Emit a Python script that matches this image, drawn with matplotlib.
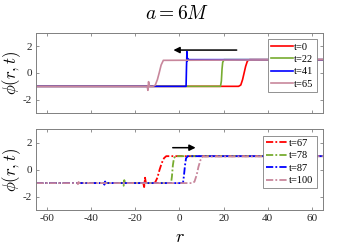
import matplotlib
matplotlib.use("Agg")
import matplotlib.pyplot as plt

plt.rcParams['font.family'] = ['Liberation Serif', 'DejaVu Serif']
plt.rcParams['mathtext.fontset'] = 'cm'
plt.rcParams['axes.unicode_minus'] = False

# upper panel: incoming kink (solid lines)
top_labels = ["t=0", "t=22", "t=41", "t=65"]
top_colors = ["#ff0000", "#77ac30", "#0000ff", "#c8879c"]
top_r = [
    [-65, 26.8, 27.8, 28.6, 29.3, 30.0, 30.8, 31.8, 65],
    [-65, 18.6, 19.0, 19.3, 19.6, 20.2, 65],
    [-65, 3.0, 3.2, 3.4, 3.5, 3.7, 3.9, 65],
    [-65, -14.6, -14.3, -14.0, -13.6, -12.0, -11.0, -10.0, -9.2, -8.3, -7.3, 65],
]
top_phi = [
    [-1, -1, -0.9, -0.5, 0, 0.5, 0.9, 1, 1],
    [-1, -1, -0.6, 0.3, 0.8, 1, 1],
    [-1, -1, 0.5, 1.6, 0.9, 1.1, 1, 1],
    [-1, -1, -1.3, -0.65, -1, -1, -0.92, -0.5, 0, 0.6, 0.95, 1],
]

# lower panel: reflected kink (dash-dot lines)
bot_labels = ["t=67", "t=78", "t=87", "t=100"]
bot_colors = ["#ff0000", "#77ac30", "#0000ff", "#c8879c"]
bot_r = [
    [-65, -16.4, -16.0, -15.6, -15.2, -12, -11, -10, -9, -8, -7, -6, 65],
    [-65, -25.6, -25.3, -25.0, -24.7, -3.8, -3.4, -3.0, -2.5, -1.8, 65],
    [-65, -34.3, -34.0, -33.7, -33.4, 1.6, 2.0, 2.5, 3.0, 3.8, 65],
    [-65, -46.3, -46.0, -45.7, -45.4, 5.8, 6.8, 7.8, 8.6, 9.5, 10.5, 65],
]
bot_phi = [
    [-1, -1, -1.3, -0.6, -1, -1, -0.95, -0.6, 0, 0.5, 0.85, 1, 1],
    [-1, -1, -1.2, -0.78, -1, -1, -0.5, 0.3, 0.85, 1, 1],
    [-1, -1, -1.12, -0.88, -1, -1, -0.5, 0.3, 0.85, 1, 1],
    [-1, -1, -1.08, -0.92, -1, -1, -0.9, -0.4, 0.2, 0.7, 0.97, 1],
]

xticks = [-60, -40, -20, 0, 20, 40, 60]
yticks = [-2, 0, 2]

fig = plt.figure(figsize=(3.64, 2.5), dpi=100)
ax1 = fig.add_axes([0.099, 0.548, 0.788, 0.32])
ax2 = fig.add_axes([0.099, 0.16, 0.788, 0.323])

for r, p, c, lab in zip(top_r, top_phi, top_colors, top_labels):
    ax1.plot(r, p, color=c, lw=1.2, label=lab)
for r, p, c, lab in zip(bot_r, bot_phi, bot_colors, bot_labels):
    ax2.plot(r, p, color=c, lw=1.3, ls='-.', dashes=(4, 1.2, 1, 1.2), label=lab)

ax1.annotate("", xy=(-4, 1.72), xytext=(27.2, 1.72),
             arrowprops=dict(arrowstyle='-|>', color='black', lw=1.1, mutation_scale=9))
ax2.annotate("", xy=(8.6, 1.63), xytext=(-4.3, 1.63),
             arrowprops=dict(arrowstyle='-|>', color='black', lw=1.1, mutation_scale=9))

for ax in (ax1, ax2):
    ax.set_xlim(-65, 65)
    ax.set_ylim(-3, 3)
    ax.set_xticks(xticks)
    ax.set_yticks(yticks)
    ax.tick_params(direction='in', top=True, right=True, length=2.5, width=0.6,
                   color='#808080', labelsize=8, labelcolor='#262626', pad=3)
    for s in ax.spines.values():
        s.set_color('#808080')
        s.set_linewidth(0.7)
    ax.set_ylabel(r'$\phi(r,t)$', fontsize=12, labelpad=0)
    leg = ax.legend(loc='upper right', fontsize=7.5, fancybox=False, framealpha=1,
                    edgecolor='#808080', handlelength=2.1, handletextpad=0.1,
                    borderpad=0.3, labelspacing=0.3, borderaxespad=0.6)
    leg.get_frame().set_linewidth(0.6)

ax1.set_xticklabels([])
ax2.set_xticklabels([str(v) for v in xticks])
ax2.set_xlabel(r'$r$', fontsize=13, labelpad=4)

fig.text(0.487, 0.945, r'$a = 6M$', ha='center', va='center', fontsize=14)

fig.savefig("out.png", dpi=100)
